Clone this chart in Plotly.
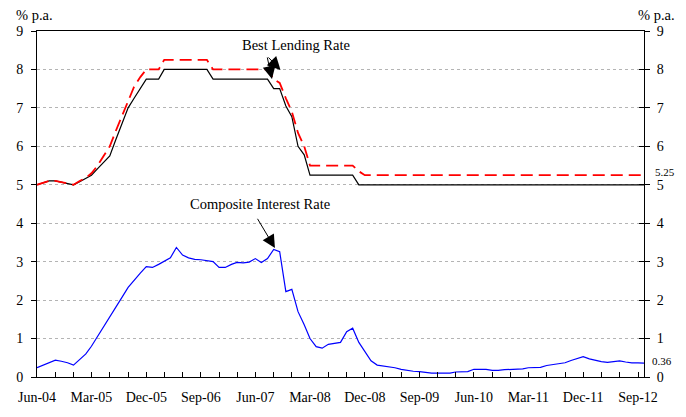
import plotly.graph_objects as go
import pandas as pd

# Monthly observations, Jun-04 .. Oct-12
months = pd.date_range("2004-06-01", periods=101, freq="MS")

blr_lower = (
    [5.00, 5.05, 5.10, 5.10, 5.07, 5.03, 5.00, 5.08, 5.17, 5.25,
     5.42, 5.58, 5.75, 6.17, 6.58, 7.00, 7.25, 7.50, 7.75, 7.75,
     7.75] + [8.00] * 8 + [7.75] * 10 +
    [7.50, 7.50, 7.05, 6.77, 6.00, 5.78] + [5.25] * 8 + [5.00] * 48
)

blr_upper = (
    [5.00, 5.05, 5.10, 5.10, 5.07, 5.03, 5.00, 5.10, 5.18, 5.30,
     5.50, 5.75, 6.00, 6.40, 6.80, 7.20, 7.55, 7.80, 8.00, 8.00,
     8.00] + [8.25] * 8 + [8.00] * 10 +
    [7.75, 7.65, 7.25, 6.90, 6.35, 6.00] + [5.50] * 8 + [5.35] + [5.25] * 47
)

composite = [
    0.24, 0.31, 0.37, 0.44, 0.41, 0.37, 0.31, 0.45, 0.60, 0.80,
    1.05, 1.31, 1.56, 1.82, 2.07, 2.33, 2.52, 2.70, 2.87, 2.85,
    2.93, 3.02, 3.10, 3.37, 3.17, 3.10, 3.06, 3.05, 3.03, 3.00,
    2.85, 2.85, 2.93, 2.98, 2.97, 2.99, 3.08, 2.98, 3.08, 3.32,
    3.26, 2.22, 2.28, 1.70, 1.36, 1.00, 0.79, 0.75, 0.85, 0.88,
    0.90, 1.18, 1.27, 0.90, 0.66, 0.42, 0.31, 0.29, 0.27, 0.24,
    0.20, 0.17, 0.15, 0.14, 0.12, 0.10, 0.10, 0.10, 0.10, 0.13,
    0.13, 0.14, 0.20, 0.20, 0.20, 0.17, 0.17, 0.19, 0.20, 0.20,
    0.21, 0.24, 0.25, 0.25, 0.30, 0.32, 0.33, 0.37, 0.43, 0.48,
    0.53, 0.47, 0.43, 0.40, 0.38, 0.40, 0.42, 0.39, 0.37, 0.37,
    0.36,
]

assert len(blr_lower) == len(blr_upper) == len(composite) == len(months)

FONT = "Liberation Serif, Times New Roman, serif"

fig = go.Figure()
fig.add_trace(go.Scatter(x=months, y=blr_lower, mode="lines", name="BLR (lower)",
                         line=dict(color="#000000", width=1.2), yaxis="y"))
fig.add_trace(go.Scatter(x=months, y=blr_upper, mode="lines", name="BLR (upper)",
                         line=dict(color="#FF0000", width=1.8, dash="12px,6px"), yaxis="y"))
fig.add_trace(go.Scatter(x=months, y=composite, mode="lines", name="Composite",
                         line=dict(color="#0000FF", width=1.2), yaxis="y2"))

fig.update_layout(
    width=686, height=417,
    margin=dict(l=37, r=42, t=31, b=40),
    paper_bgcolor="white", plot_bgcolor="white",
    showlegend=False,
    font=dict(family=FONT, size=14, color="black"),
    xaxis=dict(
        type="date", range=[months[0], months[-1]],
        tickformat="%b-%y", dtick="M9", tick0="2004-06-01",
        ticks="inside", ticklen=5, tickcolor="black",
        minor=dict(dtick="M3", tick0="2004-06-01", ticks="inside", ticklen=5, tickcolor="black"),
        showline=True, linecolor="black", linewidth=1, mirror=True,
        showgrid=False, zeroline=False, ticklabelstandoff=7,
        automargin=False,
    ),
    yaxis=dict(
        range=[0, 9], dtick=1, tick0=0,
        ticks="outside", ticklen=5, tickcolor="black",
        showline=True, linecolor="black", linewidth=1, mirror="ticks",
        showgrid=True, gridcolor="#B4B4B4", griddash="dot", gridwidth=1,
        zeroline=False, ticklabelstandoff=5, automargin=False,
    ),
    yaxis2=dict(
        overlaying="y", side="right",
        range=[0, 9], dtick=1, tick0=0,
        ticks="inside", ticklen=5, tickcolor="black",
        showline=True, linecolor="black", linewidth=1,
        showgrid=False, zeroline=False, ticklabelstandoff=9, automargin=False,
    ),
)

txt = dict(showarrow=False, xanchor="center", yanchor="middle")
anns = []
# axis unit labels
anns.append(dict(text="% p.a.", xref="paper", yref="paper", x=-0.0038, y=1.0462,
                 font=dict(size=14.5), **txt))
anns.append(dict(text="% p.a.", xref="paper", yref="paper", x=1.0198, y=1.0462,
                 font=dict(size=14.5), **txt))
# end-value labels
anns.append(dict(text=f"{blr_upper[-1]:.2f}", xref="paper", yref="y", x=1.0338, y=blr_upper[-1],
                 yshift=3, font=dict(size=11), **txt))
anns.append(dict(text=f"{composite[-1]:.2f}", xref="paper", yref="y", x=1.0291, y=composite[-1],
                 yshift=2, font=dict(size=11), **txt))
# series labels
anns.append(dict(text="Best Lending Rate", xref="paper", yref="paper", x=0.4267, y=0.9595,
                 font=dict(size=14.5), **txt))
anns.append(dict(text="Composite Interest Rate", xref="paper", yref="paper", x=0.3679, y=0.5,
                 font=dict(size=14.5), **txt))
# arrows
arrow_style = dict(showarrow=True, arrowhead=2, arrowsize=2.6, arrowwidth=1, arrowcolor="black",
                   text="", xref="paper", yref="paper", standoff=0)
anns.append(dict(x=0.4012, y=0.8873, ax=-13.5, ay=-14, **arrow_style))
anns.append(dict(x=0.3871, y=0.8613, ax=-5, ay=-23, **arrow_style))
anns.append(dict(x=0.392, y=0.3728, ax=-18.3, ay=-30.7, **arrow_style))
fig.update_layout(annotations=anns)

fig.write_html("out.html")
